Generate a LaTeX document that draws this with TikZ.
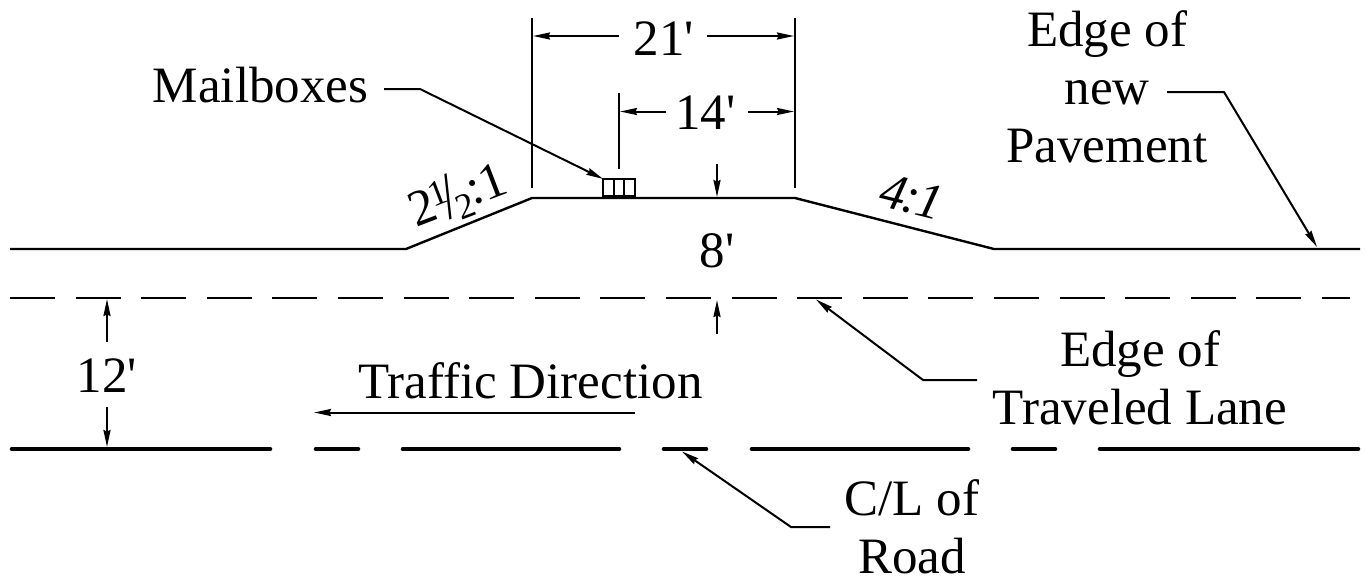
\documentclass[tikz,border=0pt]{standalone}
\usepackage{fontspec}
\setmainfont{Liberation Serif}[Ligatures=TeXOff]
\usetikzlibrary{arrows.meta,positioning}

\tikzset{
    lbl/.style={anchor=base,inner sep=0pt,outer sep=0pt,align=center,font=\fontsize{51}{58}\selectfont},
    thinline/.style={line width=2pt,line join=miter},
    dim/.style={thinline,-{Stealth[length=17pt,width=7pt,inset=1.5pt]}},
    mbox/.style={draw,line width=1.6pt,minimum width=10.5pt,minimum height=17pt,inner sep=0pt,outer sep=0pt}
}
\newcommand{\smalldigit}[1]{{\fontsize{36}{36}\selectfont #1}}

\begin{document}
\begin{tikzpicture}[x=1pt,y=-1pt]
            \useasboundingbox (0,0) rectangle (1367,582);
            % labels
            \node[lbl] (mail) at (260.5,102) {Mailboxes};
            \node[lbl] (dim_21) at (664,55) {21'};
            \node[lbl] (dim_14) at (705.5,129) {14'};
            \node[lbl] (dim_8) at (717,267) {8'};
            \node[lbl] (dim_12) at (107,392) {12'};
            \node[lbl] (traffic) at (530.5,398) {Traffic Direction};
            \node[lbl] (pavement) at (1107,162) {Edge of\hspace{5pt}\\new\\Pavement};
            \node[lbl] (lane) at (1140,424) {Edge of\hspace{6pt}\\Traveled Lane};
            \node[lbl] (road) at (912,573) {C/L of\\Road};
            \node[lbl,rotate=21] (slope_l) at (463,210) {2\kern-2pt\raisebox{13pt}{\smalldigit{1}}\kern-7pt\raisebox{-4pt}{\scalebox{1}[1.3]{/}}\kern-4pt\raisebox{-9pt}{\smalldigit{2}}\kern-1pt:\kern-1pt1};
            \node[lbl,rotate=-14,font=\fontsize{51}{51}\selectfont\itshape] (slope_r) at (908,213) {4\kern-3pt:\kern-3pt1};
            % mailboxes
            \node[mbox] (box_1) at (608.5,187.5) {};
            \node[mbox,right=0pt of box_1] (box_2) {};
            \node[mbox,right=0pt of box_2] (box_3) {};
            % road lines
            \coordinate (p_0) at (10,249);
            \coordinate (p_1) at (406,249);
            \coordinate (p_2) at (532,198);
            \coordinate (p_3) at (795,198);
            \coordinate (p_4) at (994,249);
            \coordinate (p_5) at (1360,249);
            \draw[line width=2.4pt] (p_0) -- (p_1) -- (p_2) -- (p_3) -- (p_4) -- (p_5);
            \coordinate (lane_l) at (10,298);
            \coordinate (lane_r) at (1350,298);
            \draw[line width=2.4pt,dash pattern=on 45pt off 20.6pt] (lane_l) -- (lane_r);
            \foreach \xa/\xb in {10/272,314/360,401/621,662/708,750/970,1011/1057,1098/1360}
                \draw[line width=4.6pt,line cap=round] (\xa+2,449) -- (\xb-2,449);
            % witness lines
            \coordinate (w_a) at (532,18);
            \coordinate (w_b) at (532,188);
            \coordinate (w_c) at (795,18);
            \coordinate (w_d) at (795,188);
            \coordinate (w_e) at (619,93);
            \coordinate (w_f) at (619,169);
            \draw[thinline] (w_a) -- (w_b);
            \draw[thinline] (w_c) -- (w_d);
            \draw[thinline] (w_e) -- (w_f);
            % dimension arrows
            \coordinate (d_0) at (619,36);
            \coordinate (d_1) at (707,36);
            \draw[dim] (d_0) -- (533,36);
            \draw[dim] (d_1) -- (794,36);
            \coordinate (a_0) at (666,111.5);
            \coordinate (a_1) at (748,111.5);
            \draw[dim] (a_0) -- (620,111.5);
            \draw[dim] (a_1) -- (794,111.5);
            \coordinate (a_2) at (717,164);
            \coordinate (a_3) at (717,334);
            \draw[dim] (a_2) -- (717,197);
            \draw[dim] (a_3) -- (717,300);
            \coordinate (a_4) at (107,342);
            \coordinate (a_5) at (107,407);
            \draw[dim] (a_4) -- (107,299);
            \draw[dim] (a_5) -- (107,447);
            \coordinate (a_6) at (635,412.5);
            \draw[dim] (a_6) -- (314,412.5);
            % leaders
            \coordinate (m_0) at (384,89);
            \coordinate (m_1) at (420,89);
            \draw[dim] (m_0) -- (m_1) -- (box_1.north west);
            \coordinate (e_0) at (1167,92);
            \coordinate (e_1) at (1224,92);
            \coordinate (e_2) at (1317,247);
            \draw[dim] (e_0) -- (e_1) -- (e_2);
            \coordinate (l_0) at (977,380);
            \coordinate (l_1) at (923,380);
            \coordinate (l_2) at (816,299.5);
            \draw[dim] (l_0) -- (l_1) -- (l_2);
            \coordinate (c_0) at (830,527);
            \coordinate (c_1) at (791,527);
            \coordinate (c_2) at (682,451.5);
            \draw[dim] (c_0) -- (c_1) -- (c_2);
        \end{tikzpicture}
\end{document}
